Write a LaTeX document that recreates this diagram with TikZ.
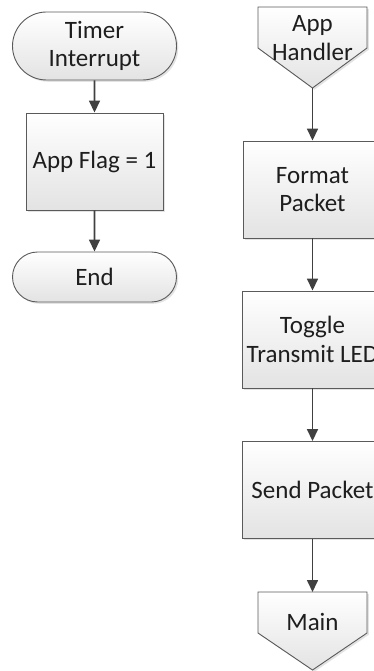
\documentclass[tikz,border=0pt]{standalone}
\usepackage{fontspec}
\setmainfont{Carlito}
\usetikzlibrary{shapes.misc,arrows.meta,shadows}
\definecolor{edge}{HTML}{5A5A5A}
\definecolor{wire}{HTML}{404040}
\definecolor{ink}{HTML}{1E1E1E}
\tikzset{
  base/.style={draw=edge, line width=0.9pt, top color=white, bottom color=black!11,
    drop shadow={shadow xshift=1.8pt, shadow yshift=-1.8pt, opacity=0.22}},
  txt/.style={text=ink, font=\fontsize{25}{28.5}\selectfont, align=center},
  terminal/.style={base, txt, rounded rectangle, minimum width=164pt, inner sep=0pt},
  process/.style={base, txt, rectangle, minimum height=97pt, inner sep=0pt},
  label/.style={txt, inner sep=0pt},
  flow/.style={draw=wire, line width=1.6pt, -{Triangle[width=11pt,length=12pt]}},
}
\begin{document}
\begin{tikzpicture}[x=1pt,y=-1pt]
  \useasboundingbox (0,0) rectangle (374,671);
  \clip (0,0) rectangle (374,671);

  % interrupt routine
  \node[terminal, minimum height=68pt] (timer) at (94.5,46) {Timer\\Interrupt};
  \node[process, minimum width=137pt] (flag) at (94.5,161.5) {App Flag = 1};
  \node[terminal, minimum height=50pt] (end) at (94.5,277) {End};

  % application handler
  \path[base] (258,7) -- (367,7) -- (367,48) -- (312.5,88) -- (258,48) -- cycle;
  \coordinate (apptip) at (312.5,88);
  \node[label] (app) at (312.5,38) {App\\Handler};
  \node[process, minimum width=138pt] (fmt) at (312.5,189.5) {Format\\Packet};
  \node[process, minimum width=141pt] (tog) at (312.5,339.5) {Toggle\\Transmit LED};
  \node[process, minimum width=141pt] (send) at (312.5,490) {Send Packet};
  \path[base] (258,592) -- (367,592) -- (367,633) -- (312.5,670) -- (258,633) -- cycle;
  \coordinate (maintop) at (312.5,592);
  \node[label] (main) at (312.5,622) {Main};

  % connectors
  \draw[flow] (timer) -- (flag);
  \draw[flow] (flag) -- (end);
  \draw[flow] (apptip) -- (fmt.north);
  \draw[flow] (fmt) -- (tog);
  \draw[flow] (tog) -- (send);
  \draw[flow] (send) -- (maintop);
\end{tikzpicture}
\end{document}
